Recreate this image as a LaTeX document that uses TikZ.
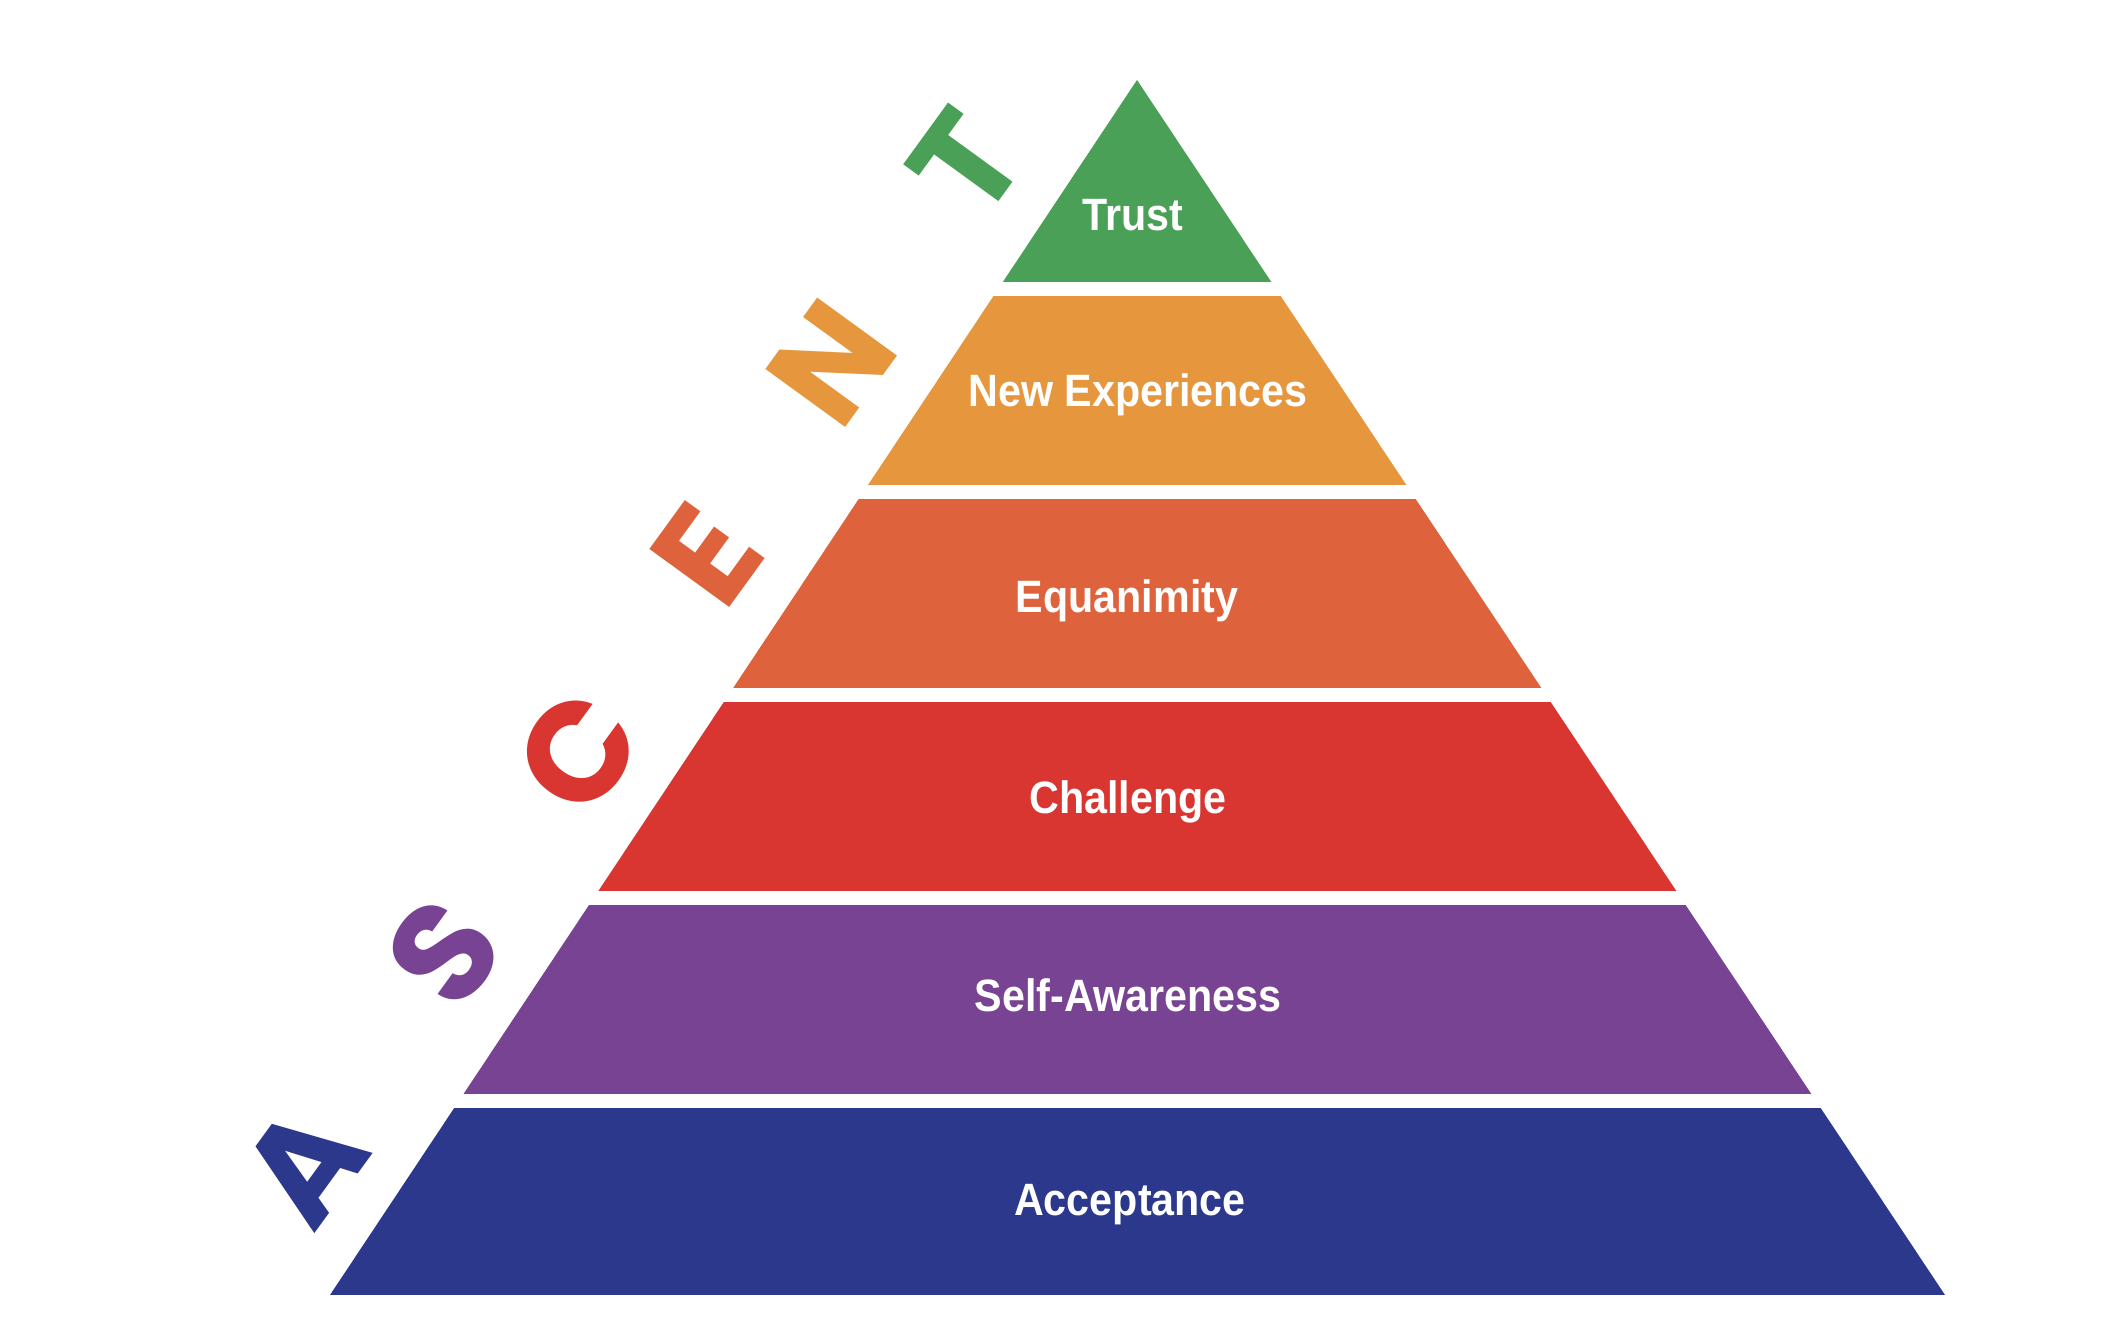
\documentclass[tikz,border=0pt]{standalone}
\usepackage{fontspec}
\usepackage{tikz}
\usetikzlibrary{calc}

\newfontfamily\tierfont[FakeStretch=0.91]{Liberation Sans}
\newfontfamily\ascentfont{Poppins}

\definecolor{trustgreen}{RGB}{74,160,87}
\definecolor{newsorange}{RGB}{230,151,61}
\definecolor{equired}{RGB}{222,99,60}
\definecolor{challred}{RGB}{217,54,50}
\definecolor{selfpurple}{RGB}{120,67,147}
\definecolor{acceptblue}{RGB}{44,56,139}

\tikzset{
	tier/.style={text=white,anchor=base,inner sep=0pt,
		font=\tierfont\bfseries\fontsize{12.9}{14}\selectfont},
	ascent/.style={rotate=54,inner sep=0pt,
		font=\ascentfont\bfseries\fontsize{40}{42}\selectfont}
}

\begin{document}
\begin{tikzpicture}
		\path[fill=white] (0,0) rectangle (21.18,13.24);

		\coordinate (apex)  at (11.37,12.44);
		\coordinate (baseL) at (3.30,0.29);
		\coordinate (baseR) at (19.45,0.29);

		% pyramid tiers
		\begin{scope}
			\clip (apex) -- (baseL) -- (baseR) -- cycle;
			\foreach \ytop/\ybot/\col in {
				12.44/10.42/trustgreen,
				10.28/8.39/newsorange,
				8.25/6.36/equired,
				6.22/4.33/challred,
				4.19/2.30/selfpurple,
				2.16/0.29/acceptblue}
				\fill[\col] (0,\ybot) rectangle (21.18,\ytop);
		\end{scope}

		\node[tier] (trust)  at (11.33,10.93) {Trust};
		\node[tier] (newexp) at (11.38,9.17)  {New Experiences};
		\node[tier] (equan)  at (11.27,7.12)  {Equanimity};
		\node[tier] (chall)  at (11.28,5.11)  {Challenge};
		\node[tier] (selfaw) at (11.28,3.13)  {Self-Awareness};
		\node[tier] (accept) at (11.30,1.09)  {Acceptance};

		% ASCENT up the left side
		\node[ascent,text=acceptblue] (lA) at (3.04,1.59)  {A};
		\node[ascent,text=selfpurple] (lS) at (4.44,3.72)  {S};
		\node[ascent,text=challred]   (lC) at (5.78,5.72)  {C};
		\node[ascent,text=equired]    (lE) at (7.07,7.69)  {E};
		\node[ascent,text=newsorange] (lN) at (8.32,9.61)  {N};
		\node[ascent,text=trustgreen] (lT) at (9.66,11.61) {T};
	\end{tikzpicture}
\end{document}
